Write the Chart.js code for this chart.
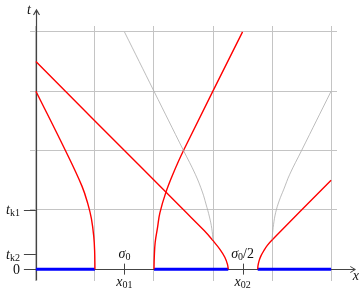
<!DOCTYPE html>
<html>
<head>
<meta charset="utf-8">
<script src="https://cdn.jsdelivr.net/npm/chart.js@4/dist/chart.umd.min.js"></script>
<style>
  html, body { margin: 0; padding: 0; background: #fff; }
  canvas { display: block; }
</style>
</head>
<body>
<canvas id="chart" width="364" height="294"></canvas>
<script>
// grid lines
const gridX = [0, 1, 2, 3, 4, 5];
const gridT = [0, 1, 2, 3, 4];

// initial data on t = 0 (thick blue pieces)
const initStart = [0, 2, 3.757];
const initEnd = [1, 3.258, 5];

// red curves (x, t)
const red1X = [0, 1.0, 2.5, 2.85, 3.0, 3.12, 3.2, 3.245, 3.258];
const red1T = [3.5, 2.5, 1.0, 0.65, 0.48, 0.33, 0.2, 0.08, 0];
const red2X = [0, 0.5, 0.78, 0.88, 0.94, 0.98, 0.995, 1.0];
const red2T = [3.0, 2.0, 1.4, 1.1, 0.85, 0.55, 0.3, 0];
const red3X = [2, 2.005, 2.02, 2.06, 2.1, 2.2, 2.32, 2.5, 3.5];
const red3T = [0, 0.2, 0.45, 0.7, 0.95, 1.29, 1.6, 2.0, 4.0];
const red4X = [3.757, 3.762, 3.78, 3.81, 3.86, 3.92, 4.0, 5.0];
const red4T = [0, 0.06, 0.14, 0.22, 0.31, 0.4, 0.49, 1.5];

// thin gray curves
const grayAX = [1.5, 2.0, 2.5, 2.7, 2.82, 2.88, 2.94, 2.98, 3.0];
const grayAT = [4.0, 3.0, 2.0, 1.6, 1.3, 1.1, 0.88, 0.68, 0.49];
const grayBX = [5.0, 4.5, 4.3, 4.2, 4.12, 4.06, 4.025, 4.005, 4.0];
const grayBT = [3.0, 2.0, 1.6, 1.35, 1.15, 0.95, 0.75, 0.57, 0.5];

// marks on the x axis
const markX = [1.5, 3.5];
const markSubs = ['01', '02'];
const stateTails = ['', '/2'];

// marks on the t axis
const tickT = [0, 0.25, 1];
const tickNames = ['0', 't', 't'];
const tickSubs = ['', 'k2', 'k1'];

const FONT = '"Liberation Serif", "DejaVu Serif", serif';
const F_IT = 'italic 14px ' + FONT;
const F_RM = '14px ' + FONT;
const F_SUB = '10px ' + FONT;

const pts = (xs, ts) => xs.map((x, i) => ({ x: x, y: ts[i] }));

const datasets = [];
[[grayAX, grayAT], [grayBX, grayBT]].forEach(c => {
  datasets.push({ data: pts(c[0], c[1]), borderColor: '#acacac', borderWidth: 0.8, tension: 0.4 });
});
[[red1X, red1T], [red2X, red2T], [red3X, red3T], [red4X, red4T]].forEach(c => {
  datasets.push({ data: pts(c[0], c[1]), borderColor: '#ff0000', borderWidth: 1.4, tension: 0.4 });
});
initStart.forEach((a, i) => {
  datasets.push({ data: pts([a, initEnd[i]], [0, 0]), borderColor: '#0000ff', borderWidth: 3, tension: 0 });
});

function drawParts(ctx, parts, x, y, align) {
  let w = 0;
  parts.forEach(p => { ctx.font = p.font; w += ctx.measureText(p.text).width; });
  let cx = align === 'right' ? x - w : (align === 'center' ? x - w / 2 : x);
  ctx.textAlign = 'left';
  ctx.textBaseline = 'alphabetic';
  parts.forEach(p => {
    ctx.font = p.font;
    ctx.fillText(p.text, cx, y + (p.dy || 0));
    cx += ctx.measureText(p.text).width;
  });
}

const decor = {
  id: 'decor',
  beforeDatasetsDraw(chart) {
    const ctx = chart.ctx;
    const xs = chart.scales.x, ys = chart.scales.y;
    const x0 = xs.getPixelForValue(0), y0 = ys.getPixelForValue(0);
    const ay = Math.round(y0) + 0.5;
    ctx.save();
    ctx.strokeStyle = '#444';
    ctx.lineWidth = 1;
    // x axis
    const xe = xs.getPixelForValue(5.41);
    ctx.beginPath();
    ctx.moveTo(xs.getPixelForValue(-0.1), ay);
    ctx.lineTo(xe, ay);
    ctx.moveTo(xe - 5, ay - 3);
    ctx.lineTo(xe, ay);
    ctx.lineTo(xe - 5, ay + 3);
    ctx.stroke();
    // t axis
    const ye = ys.getPixelForValue(4.37);
    const ax = Math.round(x0) + 0.5;
    ctx.lineWidth = 1.2;
    ctx.beginPath();
    ctx.moveTo(ax, ys.getPixelForValue(-0.19));
    ctx.lineTo(ax, ye);
    ctx.moveTo(ax - 3, ye + 5);
    ctx.lineTo(ax, ye);
    ctx.lineTo(ax + 3, ye + 5);
    ctx.stroke();
    // ticks
    ctx.lineWidth = 1;
    ctx.beginPath();
    tickT.forEach(t => {
      const py = Math.round(ys.getPixelForValue(t)) + 0.5;
      ctx.moveTo(x0 - 12, py);
      ctx.lineTo(x0, py);
    });
    markX.forEach(v => {
      const px = Math.round(xs.getPixelForValue(v)) + 0.5;
      ctx.moveTo(px, y0 - 5.5);
      ctx.lineTo(px, y0 + 5.5);
    });
    ctx.stroke();
    ctx.restore();
  },
  afterDraw(chart) {
    const ctx = chart.ctx;
    const xs = chart.scales.x, ys = chart.scales.y;
    const x0 = xs.getPixelForValue(0), y0 = ys.getPixelForValue(0);
    ctx.save();
    ctx.fillStyle = '#111';
    // axis names
    drawParts(ctx, [{ text: 't', font: F_IT }], x0 - 7, ys.getPixelForValue(4.37) + 4, 'center');
    drawParts(ctx, [{ text: 'x', font: F_IT }], xs.getPixelForValue(5.42), y0 + 11, 'center');
    // x marks
    markX.forEach((v, i) => {
      const px = xs.getPixelForValue(v);
      const parts = [{ text: 'σ', font: F_IT }, { text: '0', font: F_SUB, dy: 2.5 }];
      if (stateTails[i]) parts.push({ text: stateTails[i], font: F_RM });
      drawParts(ctx, parts, px, y0 - 11.5, 'center');
      drawParts(ctx, [{ text: 'x', font: F_IT }, { text: markSubs[i], font: F_SUB, dy: 2.5 }], px, y0 + 16.5, 'center');
    });
    // t marks
    tickT.forEach((t, i) => {
      const py = ys.getPixelForValue(t);
      const parts = tickSubs[i]
        ? [{ text: tickNames[i], font: F_IT }, { text: tickSubs[i], font: F_SUB, dy: 2 }]
        : [{ text: tickNames[i], font: F_RM }];
      drawParts(ctx, parts, x0 - 16, py + 4.5, 'right');
    });
    ctx.restore();
  }
};

new Chart(document.getElementById('chart'), {
  type: 'scatter',
  data: { datasets: datasets },
  options: {
    responsive: false,
    animation: false,
    showLine: true,
    layout: { padding: { left: 30, right: 27, top: 26, bottom: 13 } },
    elements: { point: { radius: 0, hoverRadius: 0 } },
    plugins: { legend: { display: false }, tooltip: { enabled: false } },
    scales: {
      x: {
        type: 'linear', min: -0.1, max: 5.1,
        afterBuildTicks: s => { s.ticks = gridX.map(v => ({ value: v })); },
        ticks: { display: false },
        grid: { color: '#c4c4c4', lineWidth: 1, drawTicks: false },
        border: { display: false }
      },
      y: {
        type: 'linear', min: -0.2, max: 4.1,
        afterBuildTicks: s => { s.ticks = gridT.map(v => ({ value: v })); },
        ticks: { display: false },
        grid: { color: '#c4c4c4', lineWidth: 1, drawTicks: false },
        border: { display: false }
      }
    }
  },
  plugins: [decor]
});
</script>
</body>
</html>
